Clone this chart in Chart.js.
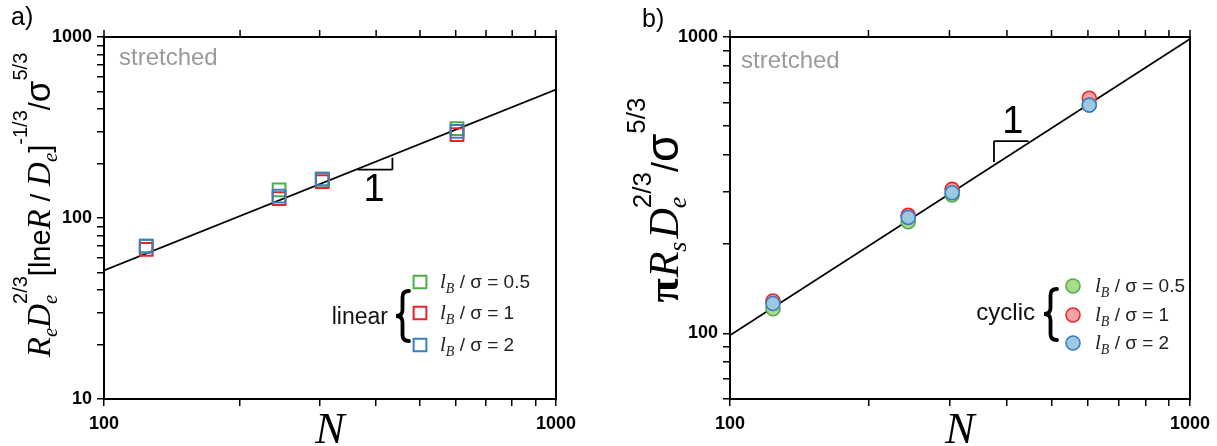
<!DOCTYPE html>
<html><head><meta charset="utf-8">
<script src="https://cdn.jsdelivr.net/npm/chart.js@4.4.1/dist/chart.umd.min.js"></script>
<style>
html,body{margin:0;padding:0;background:#fff;}
#wrap{position:relative;width:1217px;height:446px;overflow:hidden;background:#fff;}
canvas{position:absolute;top:0;}
</style></head><body>
<div id="wrap"><canvas id="ca" width="600" height="446" style="left:0;width:600px;height:446px"></canvas><canvas id="cb" width="617" height="446" style="left:600px;width:617px;height:446px"></canvas></div>
<script>
// ---------- data ----------
const N = [124, 244, 304, 604];
const linearB05 = [70, 143, 164, 312];
const linearB1  = [67, 128, 159, 289];
const linearB2  = [70, 132, 164, 301];
const cyclicB05 = [121, 238, 293, 590];
const cyclicB1  = [128.5, 250, 306, 621];
const cyclicB2  = [126, 246, 298, 589];
const fitN = [100, 1000];
const fitLinear = [51.3, 513];
const fitCyclic = [98.5, 985];
const xTicks = [100, 200, 300, 400, 500, 600, 700, 800, 900, 1000];
const yTicksA = [10, 20, 30, 40, 50, 60, 70, 80, 90, 100, 200, 300, 400, 500, 600, 700, 800, 900, 1000];
const yTicksB = [60, 70, 80, 90, 100, 200, 300, 400, 500, 600, 700, 800, 900, 1000];
const majorLabels = [10, 100, 1000];
const legendValues = ['0.5', '1', '2'];

const SERIF = '"Liberation Serif", "DejaVu Serif", serif';
const SANS = '"Liberation Sans", Arial, sans-serif';

function pts(arr) { return N.map((n, i) => ({x: n, y: arr[i]})); }
function fit(arr) { return fitN.map((n, i) => ({x: n, y: arr[i]})); }

// rich text: segments {t, f, dy, hold, gap}
function richWidth(ctx, segs) {
  let x = 0, held = null;
  for (const s of segs) {
    ctx.font = s.f;
    const w = ctx.measureText(s.t).width + (s.gap || 0);
    if (s.hold) { held = w; continue; }
    if (held !== null) { x += Math.max(held, w); held = null; } else x += w;
  }
  return x;
}
function richDraw(ctx, segs, x0, y0) {
  let x = x0, held = null;
  ctx.textBaseline = 'alphabetic'; ctx.textAlign = 'left';
  for (const s of segs) {
    ctx.font = s.f;
    const w = ctx.measureText(s.t).width + (s.gap || 0);
    ctx.fillText(s.t, x, y0 + (s.dy || 0));
    if (s.hold) { held = w; continue; }
    if (held !== null) { x += Math.max(held, w); held = null; } else x += w;
  }
}
function drawBrace(ctx, xTip, xR, yTop, yBot, yMid) {
  const xm = (xTip + xR) / 2, r = 6;
  ctx.save();
  ctx.lineWidth = 3.8; ctx.strokeStyle = '#000'; ctx.lineCap = 'round';
  ctx.beginPath();
  ctx.moveTo(xR, yTop);
  ctx.quadraticCurveTo(xm, yTop, xm, yTop + r);
  ctx.lineTo(xm, yMid - r);
  ctx.quadraticCurveTo(xm, yMid, xTip, yMid);
  ctx.quadraticCurveTo(xm, yMid, xm, yMid + r);
  ctx.lineTo(xm, yBot - r);
  ctx.quadraticCurveTo(xm, yBot, xR, yBot);
  ctx.stroke();
  ctx.restore();
}

function legendLabel(ctx, x, y, val) {
  ctx.fillStyle = '#222';
  richDraw(ctx, [
    {t: 'l', f: 'italic 21px ' + SERIF},
    {t: 'B', f: 'italic 14px ' + SERIF, dy: 5},
    {t: ' / σ = ' + val, f: '19px ' + SANS}
  ], x, y);
}

const frameTicks = {
  id: 'frameTicks',
  afterDraw(chart) {
    const {ctx, chartArea: a, scales} = chart;
    ctx.save();
    ctx.strokeStyle = '#000'; ctx.lineWidth = 2;
    ctx.strokeRect(a.left, a.top, a.right - a.left, a.bottom - a.top);
    ctx.lineWidth = 1.5;
    ctx.beginPath();
    for (const v of xTicks) {
      const px = scales.x.getPixelForValue(v);
      ctx.moveTo(px, a.top); ctx.lineTo(px, a.top - 7);
    }
    ctx.stroke();
    ctx.restore();
  }
};

const annot = {
  id: 'annot',
  afterDraw(chart, args, o) {
    const {ctx, scales: {x, y}} = chart;
    ctx.save();
    // slope triangle
    ctx.strokeStyle = '#000'; ctx.lineWidth = 1.8;
    ctx.beginPath();
    ctx.moveTo(x.getPixelForValue(o.tri[0]), y.getPixelForValue(o.tri[2]));
    ctx.lineTo(x.getPixelForValue(o.tri[1]), y.getPixelForValue(o.tri[2]));
    ctx.moveTo(x.getPixelForValue(o.tri[4]), y.getPixelForValue(o.tri[2]));
    ctx.lineTo(x.getPixelForValue(o.tri[4]), y.getPixelForValue(o.tri[3]));
    ctx.stroke();
    ctx.fillStyle = '#000';
    ctx.font = '38px ' + SANS; ctx.textAlign = 'center'; ctx.textBaseline = 'middle';
    ctx.fillText('1', x.getPixelForValue(o.one[0]), y.getPixelForValue(o.one[1]));
    // stretched
    ctx.fillStyle = '#9a9a9a'; ctx.font = '24px ' + SANS; ctx.textAlign = 'left'; ctx.textBaseline = 'alphabetic';
    ctx.fillText('stretched', o.stretched[0], o.stretched[1]);
    // panel letter
    ctx.fillStyle = '#000'; ctx.font = '25px ' + SANS;
    ctx.fillText(o.panel[0], o.panel[1], o.panel[2]);
    // x title
    ctx.font = 'italic 44px ' + SERIF; ctx.textAlign = 'center';
    ctx.fillText('N', (chart.chartArea.left + chart.chartArea.right) / 2, 443);
    // y title rotated
    const w = richWidth(ctx, o.ytitle);
    ctx.save();
    ctx.translate(o.ytitlePos[0], o.ytitlePos[1]);
    ctx.rotate(-Math.PI / 2);
    ctx.fillStyle = '#000';
    richDraw(ctx, o.ytitle, -w / 2, 0);
    ctx.restore();
    // legend
    const ds = chart.data.datasets;
    o.legend.rows.forEach((ry, i) => {
      const d = ds[i];
      ctx.save();
      ctx.lineWidth = d.borderWidth; ctx.strokeStyle = d.borderColor; ctx.fillStyle = d.backgroundColor;
      if (d.pointStyle === 'rect') {
        const h = d.pointRadius * Math.SQRT1_2;
        ctx.beginPath(); ctx.rect(o.legend.mx - h, ry - h, 2 * h, 2 * h); ctx.stroke();
      } else {
        ctx.beginPath(); ctx.arc(o.legend.mx, ry, d.pointRadius, 0, Math.PI * 2); ctx.fill(); ctx.stroke();
      }
      ctx.restore();
      legendLabel(ctx, o.legend.lx, ry + 6, legendValues[i]);
    });
    ctx.fillStyle = '#111'; ctx.font = o.legend.groupFont; ctx.textAlign = 'right'; ctx.textBaseline = 'middle';
    ctx.fillText(o.legend.group, o.legend.gx, o.legend.gy);
    const b = o.legend.brace;
    drawBrace(ctx, b[0], b[1], b[2], b[3], b[4]);
    ctx.restore();
  }
};

function axisOpts(ticksArr, fitFn, pad) {
  return {
    type: 'logarithmic',
    min: ticksArr[0], max: ticksArr[ticksArr.length - 1],
    afterBuildTicks: s => { s.ticks = ticksArr.map(v => ({value: v, major: majorLabels.includes(v)})); },
    afterFit: fitFn,
    ticks: {
      autoSkip: false, maxRotation: 0, minRotation: 0,
      callback: v => majorLabels.includes(v) ? String(v) : '',
      font: {family: SANS, size: 18, weight: 'bold'}, color: '#000', padding: pad
    },
    grid: {drawOnChartArea: false, drawTicks: true, tickLength: 7, color: '#000', lineWidth: 1.5},
    border: {display: true, color: '#000', width: 2}
  };
}

function makeChart(id, datasets, fitData, yTicks, yWidth, padRight, annotOpts) {
  datasets.push({
    label: 'fit', data: fit(fitData), showLine: true, pointRadius: 0,
    borderColor: '#000', borderWidth: 1.8, order: 10, fill: false
  });
  return new Chart(document.getElementById(id), {
    type: 'scatter',
    data: {datasets},
    options: {
      responsive: false, animation: false, events: [], devicePixelRatio: 1,
      layout: {padding: {top: 37, right: padRight, left: 0, bottom: 0}},
      scales: {
        x: axisOpts(xTicks, s => { s.height = 47; }, 7),
        y: axisOpts(yTicks, s => { s.width = yWidth; }, 5)
      },
      plugins: {legend: {display: false}, tooltip: {enabled: false}, annot: annotOpts}
    },
    plugins: [frameTicks, annot]
  });
}

const sq = (c, arr, order) => ({data: pts(arr), pointStyle: 'rect', pointRadius: 9, borderWidth: 2,
  borderColor: c, backgroundColor: 'rgba(255,255,255,0)', order});
const ci = (c, f, arr, order) => ({data: pts(arr), pointStyle: 'circle', pointRadius: 7, borderWidth: 1.6,
  borderColor: c, backgroundColor: f, order});

const it = (s) => 'italic ' + s + 'px ' + SERIF;
const sn = (s) => s + 'px ' + SANS;

makeChart('ca', [
  sq('#4cae4a', linearB05, 3), sq('#e8242a', linearB1, 2), sq('#3b7fc1', linearB2, 1)
], fitLinear, yTicksA, 104, 44, {
  tri: [363.7, 434.6, 184.9, 215.5, 434.6],
  one: [396, 141.5],
  stretched: [119, 65],
  panel: ['a)', 11, 25],
  ytitle: [
    {t: 'R', f: it(33)}, {t: 'e', f: it(21), dy: 7},
    {t: 'D', f: it(33)}, {t: 'e', f: it(21), dy: 7, hold: true}, {t: '2/3', f: sn(20), dy: -23},
    {t: '[lne', f: sn(29)}, {t: 'R', f: it(33)}, {t: ' / ', f: sn(28)}, {t: 'D', f: it(33)},
    {t: 'e', f: it(21), dy: 7}, {t: ']', f: sn(29)}, {t: '-1/3', f: sn(20), dy: -23},
    {t: '/', f: sn(29)}, {t: 'σ', f: sn(35)}, {t: '5/3', f: sn(20), dy: -23}
  ],
  ytitlePos: [50, 205],
  legend: {mx: 420, lx: 440, rows: [282, 313, 345], group: 'linear', groupFont: sn(23), gx: 388, gy: 318,
    brace: [396, 409, 291, 341, 316]}
});

makeChart('cb', [
  ci('#55b04c', '#a8db8b', cyclicB05, 3), ci('#e8282b', '#f5a2a2', cyclicB1, 2), ci('#3a7cc0', '#9dc8e2', cyclicB2, 1)
], fitCyclic, yTicksB, 130, 20, {
  tri: [374.9, 445.6, 445.4, 378.2, 374.9],
  one: [411.7, 516],
  stretched: [141, 68],
  panel: ['b)', 42, 27],
  ytitle: [
    {t: 'π', f: 'bold 44px ' + SERIF, gap: 1}, {t: 'R', f: it(42)}, {t: 's', f: it(26), dy: 8, gap: 3},
    {t: 'D', f: it(42)}, {t: 'e', f: it(26), dy: 8, hold: true}, {t: '2/3', f: sn(26), dy: -27},
    {t: '/', f: sn(36)}, {t: 'σ', f: sn(46)}, {t: '5/3', f: sn(26), dy: -33}
  ],
  ytitlePos: [78, 200],
  legend: {mx: 473, lx: 495, rows: [286, 315, 343], group: 'cyclic', groupFont: sn(24), gx: 435, gy: 313,
    brace: [444, 457, 289, 340, 314]}
});
</script>
</body></html>
